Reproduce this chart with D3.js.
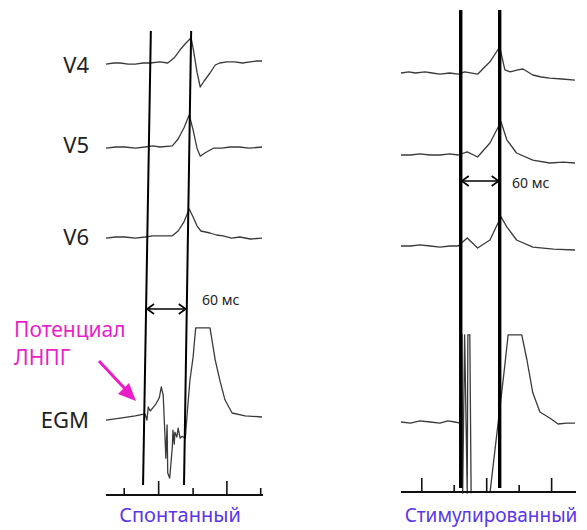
<!DOCTYPE html>
<html>
<head>
<meta charset="utf-8">
<script src="https://cdn.jsdelivr.net/npm/d3@7"></script>
<style>
  body { margin: 0; background: #fff; }
  svg { display: block; font-family: "Noto Sans", sans-serif; }
</style>
</head>
<body>
<svg id="chart" width="587" height="530"></svg>
<script>
'use strict';

// leads, top to bottom
var leads = ['V4', 'V5', 'V6', 'EGM'];
var panelNames = ['Спонтанный', 'Стимулированный'];

// spontaneous beat: time (ms) and amplitude (mV)
var v4SpontT = [0, 12, 22, 34, 45, 57, 68, 83, 95, 105, 114, 122, 128, 131, 135, 140, 145, 151, 160, 168, 175, 186, 198, 210, 222, 232, 240];
var v4SpontA = [-0.03, 0, 0, -0.03, -0.03, 0, 0, 0.03, 0, 0.13, 0.33, 0.48, 0.58, 0.63, 0.28, -0.23, -0.6, -0.45, -0.25, -0.05, 0, 0.03, 0.03, 0, 0.03, 0.05, 0.05];
var v5SpontT = [0, 15, 29, 45, 60, 72, 83, 102, 111, 120, 128, 134, 140, 145, 152, 165, 178, 191, 205, 220, 240];
var v5SpontA = [-0.03, 0, 0, -0.03, 0, 0.03, 0, 0.03, 0.2, 0.48, 0.8, 0.43, -0.03, -0.23, -0.15, -0.03, -0.03, 0, 0, -0.03, 0];
var v6SpontT = [0, 15, 29, 45, 60, 72, 83, 102, 111, 120, 128, 134, 140, 146, 160, 170, 180, 193, 206, 222, 240];
var v6SpontA = [-0.03, 0, 0, -0.03, 0, 0.03, 0.03, 0.03, 0.15, 0.38, 0.7, 0.5, 0.28, 0.15, 0.1, 0.05, 0.03, -0.03, 0, -0.05, -0.03];
var egmSpontT = [0, 22, 45, 60, 63, 65, 68, 72, 77, 82, 85, 88, 91, 92, 94, 95, 98, 102, 103, 105, 106, 109, 111, 114, 117, 122, 125, 129, 134, 138, 160, 168, 175, 183, 194, 214, 240];
var egmSpontA = [-0.08, -0.03, 0.03, 0.08, -0.08, 0.25, 0.15, 0.23, 0.33, 0.48, 0.75, 0.55, -0.58, -1.03, -0.2, -1.4, -1.53, -0.75, -0.33, -0.68, -0.38, -0.5, -0.28, -0.53, -0.48, -0.53, 0.1, 0.9, 1.5, 2.23, 2.23, 1.43, 0.93, 0.43, 0.1, 0.03, 0];

// paced beat: time (ms) and amplitude (mV)
var v4StimT = [0, 12, 22, 37, 48, 60, 75, 88, 98, 118, 137, 152, 160, 168, 180, 188, 203, 216, 229, 248, 268];
var v4StimA = [0, 0.03, 0, 0.03, 0, -0.03, 0, -0.03, 0.03, -0.03, 0.28, 0.65, 0.08, 0.03, 0.08, 0.1, -0.05, -0.1, -0.13, -0.15, -0.18];
var v5StimT = [0, 15, 29, 45, 60, 75, 88, 102, 118, 137, 154, 163, 178, 203, 229, 250, 268];
var v5StimA = [0, 0, 0.03, 0, 0, 0.03, 0, 0.08, -0.05, 0.3, 0.83, 0.38, 0.05, -0.13, -0.2, -0.18, -0.2];
var v6StimT = [0, 15, 29, 45, 60, 75, 88, 102, 118, 137, 154, 163, 178, 203, 235, 268];
var v6StimA = [0, 0, 0.03, 0, -0.03, 0, 0, 0.2, -0.05, 0.15, 0.73, 0.48, 0.15, -0.03, -0.08, -0.1];
var egmStimT = [0, 15, 29, 45, 60, 72, 83, 91, 94, 95, 98, 102, 103, 106, 108];
var egmStimA = [0, -0.03, 0.03, 0, -0.03, 0.03, 0, -0.03, 2.18, -1.78, 2.18, -1.78, 2.18, 2.18, -1.78];
var egmStimT2 = [137, 160, 165, 186, 194, 203, 214, 229, 242, 255, 268];
var egmStimA2 = [-1.78, 1.43, 2.18, 2.18, 1.55, 0.73, 0.25, 0.1, -0.05, -0.03, -0.03];

// reference lines (ms at top and bottom of the strip) and time ticks (ms)
var spontMarkTop = [69, 131];
var spontMarkBottom = [57, 120];
var stimMarkTop = [92, 152];
var stimMarkBottom = [92, 152];
var spontTicks = [28, 81, 134, 186, 238];
var stimTicks = [32, 82, 132, 182, 232];
var intervalLabel = '60 мс';

var svg = d3.select('#chart');
var traceColor = '#3a3a3a';

var panels = [
  {
    name: panelNames[0],
    x: d3.scaleLinear().domain([0, 240]).range([106, 262]),
    bases: [63, 147, 237, 417],
    t: [v4SpontT, v5SpontT, v6SpontT, egmSpontT],
    a: [v4SpontA, v5SpontA, v6SpontA, egmSpontA],
    markTop: spontMarkTop, markBottom: spontMarkBottom, markWidth: 2,
    lineTop: 31, lineBottom: 485,
    ticks: spontTicks, tallFirst: false, axisY: 495,
    arrowY: 309, labelX: 202, labelY: 305,
    titleX: 180, titleSize: 20
  },
  {
    name: panelNames[1],
    x: d3.scaleLinear().domain([0, 268]).range([401, 575]),
    bases: [73, 155, 246, 422, 422],
    t: [v4StimT, v5StimT, v6StimT, egmStimT, egmStimT2],
    a: [v4StimA, v5StimA, v6StimA, egmStimA, egmStimA2],
    markTop: stimMarkTop, markBottom: stimMarkBottom, markWidth: 3.4,
    lineTop: 10, lineBottom: 488,
    ticks: stimTicks, tallFirst: true, axisY: 492,
    arrowY: 181, labelX: 512, labelY: 188,
    titleX: 491, titleSize: 19
  }
];

function drawArrowHead(g, x, y, dir) {
  g.append('path')
    .attr('d', 'M' + (x + dir * 7) + ',' + (y - 5) + 'L' + x + ',' + y + 'L' + (x + dir * 7) + ',' + (y + 5))
    .attr('fill', 'none')
    .attr('stroke', '#000')
    .attr('stroke-width', 1.6);
}

panels.forEach(function (p) {
  var g = svg.append('g');

  // traces
  p.t.forEach(function (times, i) {
    var y = d3.scaleLinear().domain([0, 1]).range([p.bases[i], p.bases[i] - 40]);
    var pts = d3.zip(times, p.a[i]);
    var line = d3.line()
      .x(function (d) { return p.x(d[0]); })
      .y(function (d) { return y(d[1]); });
    g.append('path')
      .datum(pts)
      .attr('d', line)
      .attr('fill', 'none')
      .attr('stroke', traceColor)
      .attr('stroke-width', 1.3)
      .attr('stroke-linejoin', 'round');
  });

  // reference lines
  p.markTop.forEach(function (t, k) {
    g.append('line')
      .attr('x1', p.x(t)).attr('y1', p.lineTop)
      .attr('x2', p.x(p.markBottom[k])).attr('y2', p.lineBottom)
      .attr('stroke', '#000')
      .attr('stroke-width', p.markWidth);
  });

  // interval arrow between the two reference lines
  var slope = function (k) {
    var f = (p.arrowY - p.lineTop) / (p.lineBottom - p.lineTop);
    return p.x(p.markTop[k] + (p.markBottom[k] - p.markTop[k]) * f);
  };
  var ax1 = slope(0) + 1, ax2 = slope(1) - 1;
  g.append('line')
    .attr('x1', ax1).attr('y1', p.arrowY)
    .attr('x2', ax2).attr('y2', p.arrowY)
    .attr('stroke', '#000')
    .attr('stroke-width', 1.6);
  drawArrowHead(g, ax1, p.arrowY, 1);
  drawArrowHead(g, ax2, p.arrowY, -1);
  g.append('text')
    .attr('x', p.labelX).attr('y', p.labelY)
    .attr('font-size', 14)
    .attr('fill', '#222')
    .text(intervalLabel);

  // time axis
  var r = p.x.range();
  g.append('line')
    .attr('x1', r[0]).attr('x2', r[1] + 1)
    .attr('y1', p.axisY).attr('y2', p.axisY)
    .attr('stroke', '#111')
    .attr('stroke-width', 2);
  g.selectAll('.tick')
    .data(p.ticks)
    .enter().append('line')
    .attr('x1', function (d) { return p.x(d); })
    .attr('x2', function (d) { return p.x(d); })
    .attr('y1', p.axisY)
    .attr('y2', function (d, k) {
      var tall = (k % 2 === 0) === p.tallFirst;
      return p.axisY - (tall ? 14 : 7);
    })
    .attr('stroke', '#111')
    .attr('stroke-width', 1.6);

  g.append('text')
    .attr('x', p.titleX).attr('y', 522)
    .attr('text-anchor', 'middle')
    .attr('font-size', p.titleSize)
    .attr('fill', '#5a35ea')
    .text(p.name);
});

// lead labels on the left
var labelY = [73, 153, 245, 428];
svg.selectAll('.lead')
  .data(leads)
  .enter().append('text')
  .attr('x', 89)
  .attr('y', function (d, i) { return labelY[i]; })
  .attr('text-anchor', 'end')
  .attr('font-size', 22)
  .attr('fill', '#222')
  .text(function (d) { return d; });

// LBB potential callout
var pink = '#ea1ec8';
svg.append('text')
  .attr('x', 14).attr('y', 337)
  .attr('font-size', 21)
  .attr('fill', pink)
  .text('Потенциал');
svg.append('text')
  .attr('x', 14).attr('y', 365)
  .attr('font-size', 21)
  .attr('fill', pink)
  .text('ЛНПГ');
svg.append('line')
  .attr('x1', 99).attr('y1', 361)
  .attr('x2', 127).attr('y2', 391)
  .attr('stroke', pink)
  .attr('stroke-width', 3);
svg.append('path')
  .attr('d', 'M136,401 L118,394 L129,383 Z')
  .attr('fill', pink);
</script>
</body>
</html>
